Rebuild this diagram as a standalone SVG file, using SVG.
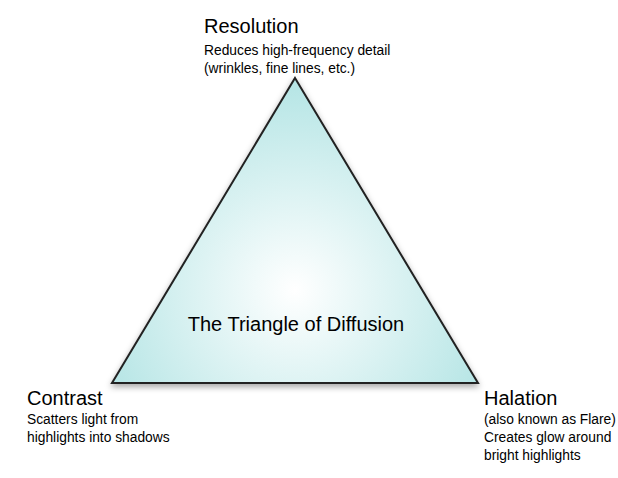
<svg xmlns="http://www.w3.org/2000/svg" width="618" height="478" viewBox="0 0 618 478">
<style>
.t{font-family:"Liberation Sans",Arial,sans-serif;fill:#000}
.h{font-size:20px}
.s{font-size:13.8px}
</style>
<defs>
<radialGradient id="g" cx="295" cy="290" r="200" gradientUnits="userSpaceOnUse">
<stop offset="0" stop-color="#ffffff"/>
<stop offset="1" stop-color="#b8e6e6"/>
</radialGradient>
<filter id="sh" x="-10%" y="-10%" width="120%" height="125%">
<feDropShadow dx="0" dy="3" stdDeviation="3" flood-color="#000" flood-opacity="0.35"/>
</filter>
</defs>
<rect width="618" height="478" fill="#fff"/>
<g id="triangle">
<polygon points="295,78 478,383 112,383" fill="url(#g)" stroke="#222" stroke-width="2" stroke-linejoin="miter" filter="url(#sh)"/>
<text class="t h" x="296" y="331" text-anchor="middle">The Triangle of Diffusion</text>
</g>
<g id="resolution">
<text class="t h" x="204" y="33">Resolution</text>
<text class="t s" x="204" y="55">Reduces high-frequency detail</text>
<text class="t s" x="204" y="73">(wrinkles, fine lines, etc.)</text>
</g>
<g id="contrast">
<text class="t h" x="27" y="405">Contrast</text>
<text class="t s" x="27" y="424">Scatters light from</text>
<text class="t s" x="27" y="442">highlights into shadows</text>
</g>
<g id="halation">
<text class="t h" x="484" y="405">Halation</text>
<text class="t s" x="484" y="424">(also known as Flare)</text>
<text class="t s" x="484" y="442">Creates glow around</text>
<text class="t s" x="484" y="460">bright highlights</text>
</g>
<g id="connectors"></g>
</svg>
